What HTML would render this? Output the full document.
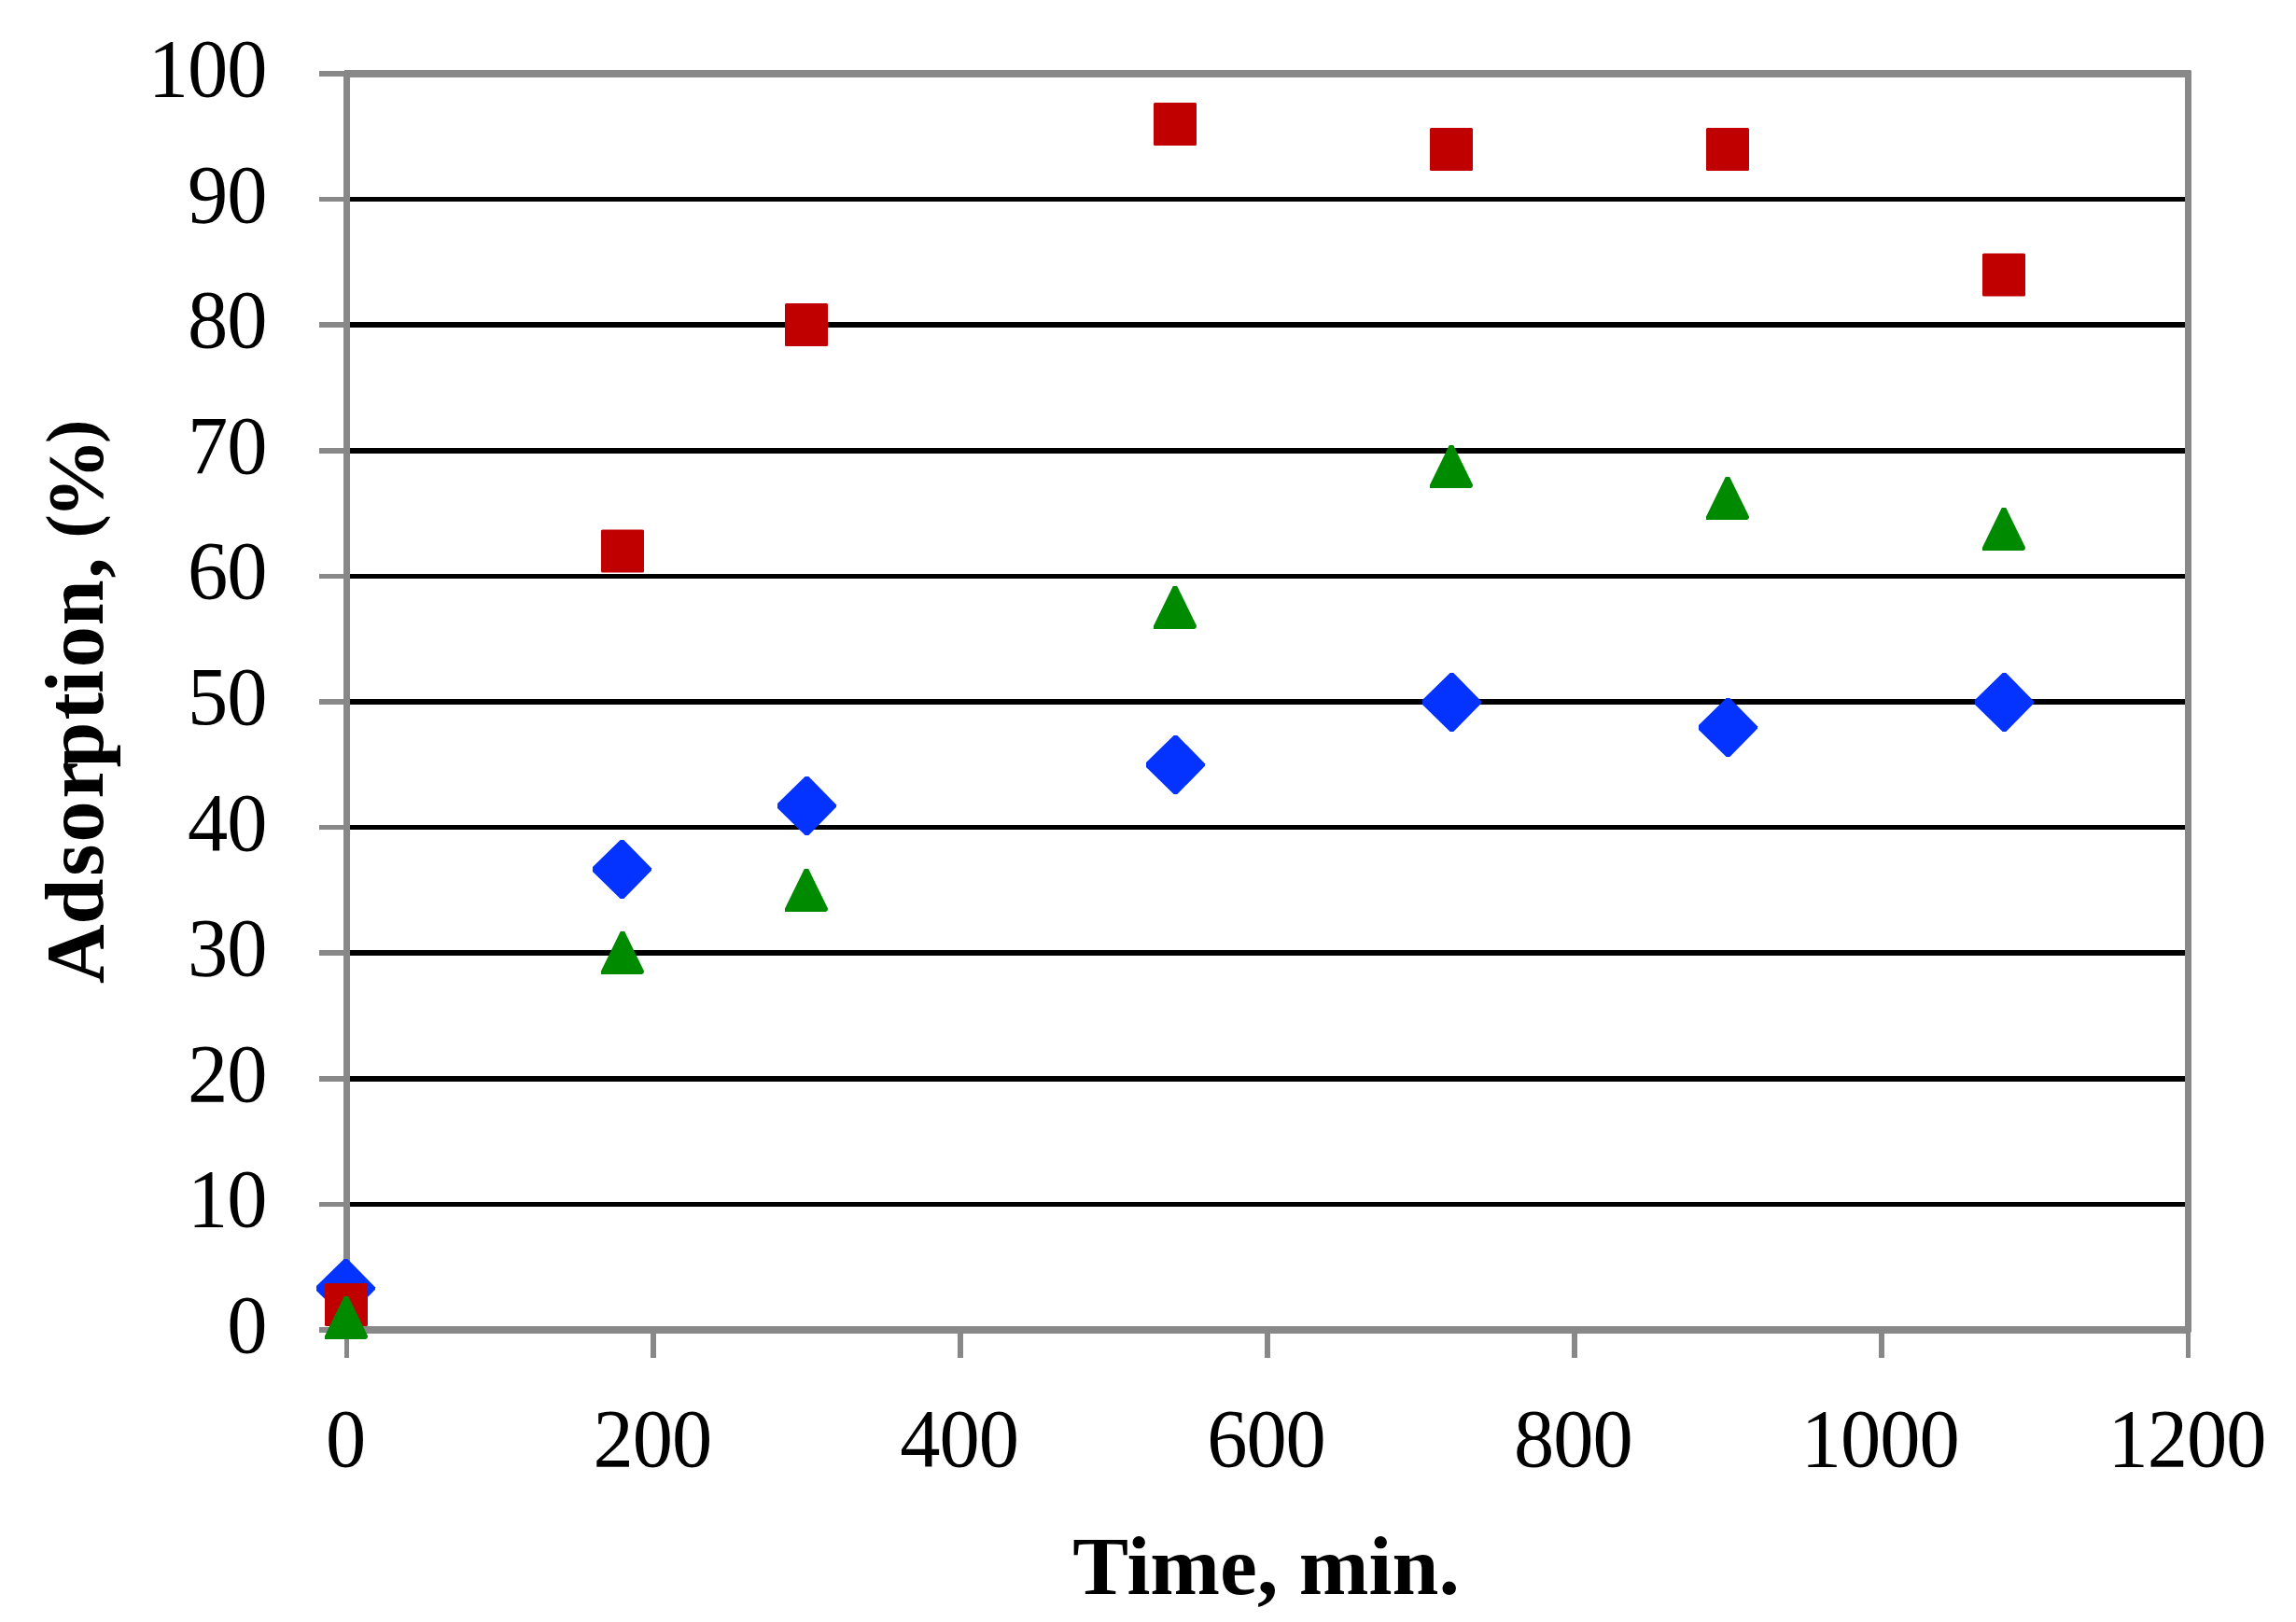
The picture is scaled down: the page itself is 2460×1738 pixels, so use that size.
<!DOCTYPE html>
<html lang="en">
<head>
<meta charset="utf-8">
<title>Adsorption vs Time</title>
<style>
html,body{margin:0;padding:0;background:#fff;}
body{width:2460px;height:1738px;overflow:hidden;}
svg{display:block;}
text{font-family:"Liberation Serif","DejaVu Serif",serif;fill:#000;}
.tick{font-size:84px;}
.title{font-size:88px;font-weight:bold;}
</style>
</head>
<body>
<svg width="2460" height="1738" viewBox="0 0 2460 1738">
<rect x="0" y="0" width="2460" height="1738" fill="#ffffff"/>
<g fill="#000000" shape-rendering="crispEdges">
<rect x="375" y="1288" width="1966" height="5"/>
<rect x="375" y="1153" width="1966" height="6"/>
<rect x="375" y="1018" width="1966" height="6"/>
<rect x="375" y="884" width="1966" height="5"/>
<rect x="375" y="749" width="1966" height="6"/>
<rect x="375" y="615" width="1966" height="5"/>
<rect x="375" y="480" width="1966" height="6"/>
<rect x="375" y="345" width="1966" height="6"/>
<rect x="375" y="211" width="1966" height="5"/>
</g>
<g fill="#888888" shape-rendering="crispEdges">
<rect x="342" y="1422" width="27" height="6"/>
<rect x="342" y="1288" width="27" height="5"/>
<rect x="342" y="1153" width="27" height="6"/>
<rect x="342" y="1018" width="27" height="6"/>
<rect x="342" y="884" width="27" height="5"/>
<rect x="342" y="749" width="27" height="6"/>
<rect x="342" y="615" width="27" height="5"/>
<rect x="342" y="480" width="27" height="6"/>
<rect x="342" y="345" width="27" height="6"/>
<rect x="342" y="211" width="27" height="5"/>
<rect x="342" y="76" width="27" height="6"/>
<rect x="369" y="1425" width="5" height="30"/>
<rect x="697" y="1425" width="6" height="30"/>
<rect x="1026" y="1425" width="6" height="30"/>
<rect x="1355" y="1425" width="6" height="30"/>
<rect x="1684" y="1425" width="6" height="30"/>
<rect x="2013" y="1425" width="6" height="30"/>
<rect x="2342" y="1425" width="5" height="30"/>
<rect x="368" y="76" width="7" height="1353"/>
<rect x="2341" y="76" width="7" height="1351"/>
<rect x="369" y="75" width="1978" height="8"/>
<rect x="368" y="1421" width="1979" height="8"/>
</g>
<path d="M2347 75 L2348 76 L2348 1427 L2347 1428 Z" fill="#888888"/>
<g fill="#0433ff">
<polygon points="368.65,1349.00 372.35,1349.00 402.00,1379.30 402.00,1381.70 372.35,1412.00 368.65,1412.00 339.00,1383.00 339.00,1378.00"/>
<polygon points="664.65,900.00 668.35,900.00 698.00,930.30 698.00,932.70 668.35,963.00 664.65,963.00 635.00,934.00 635.00,929.00"/>
<polygon points="862.65,832.00 866.35,832.00 896.00,862.30 896.00,864.70 866.35,895.00 862.65,895.00 833.00,866.00 833.00,861.00"/>
<polygon points="1257.65,788.00 1261.35,788.00 1291.00,818.30 1291.00,820.70 1261.35,851.00 1257.65,851.00 1228.00,822.00 1228.00,817.00"/>
<polygon points="1553.65,721.00 1557.35,721.00 1587.00,751.30 1587.00,753.70 1557.35,784.00 1553.65,784.00 1524.00,755.00 1524.00,750.00"/>
<polygon points="1849.65,748.00 1853.35,748.00 1883.00,778.30 1883.00,780.70 1853.35,811.00 1849.65,811.00 1820.00,782.00 1820.00,777.00"/>
<polygon points="2145.65,721.00 2149.35,721.00 2179.00,751.30 2179.00,753.70 2149.35,784.00 2145.65,784.00 2116.00,755.00 2116.00,750.00"/>
</g>
<g fill="#c00000">
<rect x="348.0" y="1375.0" width="46" height="46" rx="1.5"/>
<rect x="644.0" y="567.5" width="46" height="46" rx="1.5"/>
<rect x="841.0" y="325.0" width="46" height="46" rx="1.5"/>
<rect x="1236.0" y="110.0" width="46" height="46" rx="1.5"/>
<rect x="1532.0" y="137.0" width="46" height="46" rx="1.5"/>
<rect x="1828.0" y="137.0" width="46" height="46" rx="1.5"/>
<rect x="2124.0" y="271.5" width="46" height="46" rx="1.5"/>
</g>
<g fill="#008a00">
<polygon points="368.80,1389.00 373.20,1389.00 394.00,1431.60 393.60,1433.80 391.80,1435.00 348.00,1435.00 348.00,1431.60"/>
<polygon points="664.80,998.00 669.20,998.00 690.00,1040.60 689.60,1042.80 687.80,1044.00 644.00,1044.00 644.00,1040.60"/>
<polygon points="861.80,931.00 866.20,931.00 887.00,973.60 886.60,975.80 884.80,977.00 841.00,977.00 841.00,973.60"/>
<polygon points="1256.80,628.00 1261.20,628.00 1282.00,670.60 1281.60,672.80 1279.80,674.00 1236.00,674.00 1236.00,670.60"/>
<polygon points="1552.80,477.00 1557.20,477.00 1578.00,519.60 1577.60,521.80 1575.80,523.00 1532.00,523.00 1532.00,519.60"/>
<polygon points="1848.80,511.00 1853.20,511.00 1874.00,553.60 1873.60,555.80 1871.80,557.00 1828.00,557.00 1828.00,553.60"/>
<polygon points="2144.80,544.00 2149.20,544.00 2170.00,586.60 2169.60,588.80 2167.80,590.00 2124.00,590.00 2124.00,586.60"/>
</g>
<g class="tick" text-anchor="end" letter-spacing="-1">
<text transform="translate(285.4,1449.0) scale(1.03,1.07)">0</text>
<text transform="translate(285.4,1314.4) scale(1.03,1.07)">10</text>
<text transform="translate(285.4,1179.8) scale(1.03,1.07)">20</text>
<text transform="translate(285.4,1045.2) scale(1.03,1.07)">30</text>
<text transform="translate(285.4,910.6) scale(1.03,1.07)">40</text>
<text transform="translate(285.4,776.0) scale(1.03,1.07)">50</text>
<text transform="translate(285.4,641.4) scale(1.03,1.07)">60</text>
<text transform="translate(285.4,506.8) scale(1.03,1.07)">70</text>
<text transform="translate(285.4,372.2) scale(1.03,1.07)">80</text>
<text transform="translate(285.4,237.6) scale(1.03,1.07)">90</text>
<text transform="translate(285.4,103.0) scale(1.03,1.07)">100</text>
</g>
<g class="tick" text-anchor="middle" letter-spacing="-1">
<text transform="translate(370.0,1571.4) scale(1.03,1.07)">0</text>
<text transform="translate(698.8,1571.4) scale(1.03,1.07)">200</text>
<text transform="translate(1027.7,1571.4) scale(1.03,1.07)">400</text>
<text transform="translate(1356.5,1571.4) scale(1.03,1.07)">600</text>
<text transform="translate(1685.3,1571.4) scale(1.03,1.07)">800</text>
<text transform="translate(2014.2,1571.4) scale(1.03,1.07)">1000</text>
<text transform="translate(2343.0,1571.4) scale(1.03,1.07)">1200</text>
</g>
<text class="title" text-anchor="middle" transform="translate(1356.5,1708) scale(1.02,1)">Time, min.</text>
<text class="title" transform="translate(110,0) rotate(-90)"><tspan x="-1054 -990.4 -938.7 -902.6 -855.4 -822.6 -771.4 -742.8 -715.2 -670.2 -619.5">Adsorption,</tspan><tspan> </tspan><tspan font-size="76" x="-576.5" dy="-7.7">(</tspan><tspan font-size="85.4" x="-555.5" dy="7.7">%</tspan><tspan font-size="76" x="-475" dy="-7.7">)</tspan></text>
</svg>
</body>
</html>
